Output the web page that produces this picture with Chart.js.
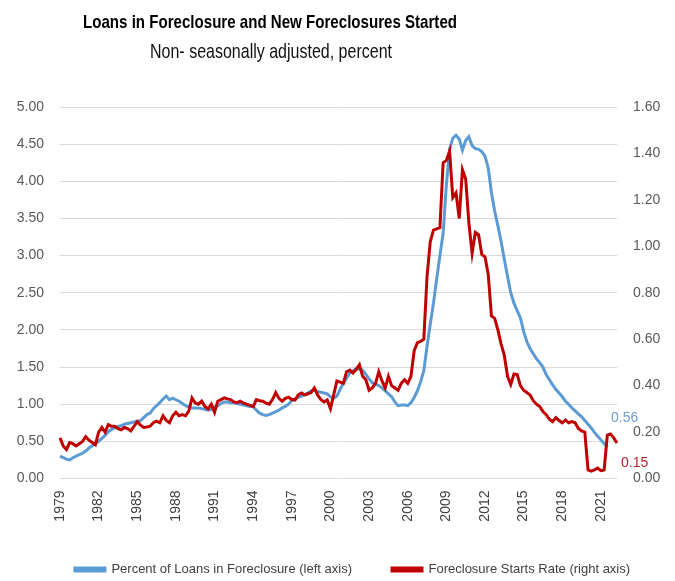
<!DOCTYPE html>
<html><head><meta charset="utf-8">
<script src="https://cdn.jsdelivr.net/npm/chart.js@4.4.0/dist/chart.umd.min.js"></script>
<style>
html,body{margin:0;padding:0;background:#fff;}
#wrap{position:relative;width:675px;height:581px;overflow:hidden;background:#fff;}
canvas{position:absolute;left:0;top:0;}
.t{position:absolute;white-space:nowrap;transform-origin:0 0;color:#000;font-family:"Liberation Sans Narrow","Liberation Sans",Arial,sans-serif;}
#title{font-weight:bold;font-size:19px;line-height:19px;left:83px;top:12px;}
#sub{font-size:21px;line-height:21px;left:150px;top:40px;color:#111;}
</style></head><body>
<div id="wrap"><canvas id="c" width="675" height="581"></canvas>
<div id="title" class="t">Loans in Foreclosure and New Foreclosures Started</div>
<div id="sub" class="t">Non- seasonally adjusted, percent</div></div>
<script>
// ---- data (quarterly, starting 1979 Q1) ----
const startYear = 1979;
const quarterCount = 174;
const tickYears = ['1979','1982','1985','1988','1991','1994','1997','2000','2003','2006','2009','2012','2015','2018','2021'];
const leftTicks = [0,0.5,1,1.5,2,2.5,3,3.5,4,4.5,5];
const rightTicks = [0,0.2,0.4,0.6,0.8,1.0,1.2,1.4,1.6];

const seriesNames = ['Percent of Loans in Foreclosure (left axis)','Foreclosure Starts Rate (right axis)'];

const loansInForeclosure = [
0.30,0.28,0.26,0.25,0.28,0.30,0.32,0.34,0.37,0.41,
0.44,0.47,0.50,0.54,0.58,0.63,0.66,0.68,0.70,0.71,
0.73,0.74,0.75,0.76,0.77,0.78,0.82,0.86,0.88,0.94,
0.98,1.02,1.07,1.11,1.06,1.08,1.06,1.04,1.01,0.98,
0.96,0.95,0.95,0.95,0.94,0.93,0.92,0.93,0.96,0.98,
1.01,1.03,1.03,1.02,1.02,1.01,1.00,0.99,0.98,0.97,
0.97,0.92,0.88,0.86,0.85,0.86,0.88,0.90,0.92,0.95,
0.97,1.00,1.05,1.07,1.09,1.11,1.13,1.15,1.18,1.19,
1.17,1.16,1.15,1.14,1.10,1.08,1.11,1.20,1.28,1.35,
1.42,1.45,1.48,1.47,1.46,1.40,1.34,1.29,1.27,1.25,
1.22,1.18,1.14,1.10,1.03,0.98,0.99,0.99,0.98,1.02,
1.09,1.18,1.30,1.45,1.78,2.08,2.36,2.69,3.00,3.30,
3.95,4.43,4.58,4.62,4.57,4.42,4.55,4.60,4.48,4.44,
4.43,4.40,4.34,4.18,3.85,3.60,3.40,3.19,2.95,2.72,
2.50,2.36,2.26,2.16,1.98,1.84,1.75,1.68,1.61,1.56,
1.50,1.40,1.33,1.26,1.20,1.15,1.10,1.04,1.00,0.95,
0.91,0.87,0.83,0.78,0.73,0.68,0.62,0.57,0.52,0.47,
0.42
];

const foreclosureStarts = [
0.175,0.14,0.125,0.155,0.15,0.14,0.15,0.16,0.18,0.165,
0.155,0.145,0.20,0.22,0.20,0.232,0.225,0.225,0.215,0.21,
0.22,0.215,0.205,0.225,0.245,0.23,0.22,0.222,0.225,0.24,
0.247,0.24,0.27,0.25,0.24,0.27,0.285,0.27,0.275,0.27,
0.29,0.347,0.325,0.32,0.333,0.31,0.30,0.32,0.285,0.333,
0.34,0.347,0.343,0.34,0.33,0.327,0.333,0.325,0.32,0.315,
0.31,0.34,0.335,0.333,0.325,0.32,0.34,0.37,0.345,0.333,
0.345,0.35,0.34,0.338,0.36,0.368,0.36,0.365,0.37,0.39,
0.36,0.34,0.33,0.338,0.30,0.36,0.42,0.415,0.41,0.46,
0.467,0.454,0.47,0.49,0.44,0.425,0.38,0.39,0.41,0.46,
0.42,0.39,0.44,0.40,0.39,0.38,0.41,0.425,0.41,0.44,
0.55,0.585,0.59,0.60,0.87,1.02,1.07,1.075,1.08,1.36,
1.37,1.41,1.21,1.23,1.12,1.33,1.29,1.10,0.97,1.06,
1.05,0.965,0.955,0.88,0.70,0.69,0.64,0.58,0.53,0.44,
0.405,0.45,0.448,0.40,0.38,0.37,0.36,0.335,0.32,0.31,
0.288,0.275,0.255,0.245,0.262,0.25,0.24,0.252,0.24,0.245,
0.24,0.215,0.205,0.20,0.037,0.032,0.037,0.045,0.034,0.037,
0.187,0.192,0.175,0.153
];

const endLabelValues = {left: 0.56, right: 0.15};

// ---- categories ----
const quarterLabels = [];
for (let i = 0; i < quarterCount; i++) {
  quarterLabels.push(String(startYear + Math.floor(i / 4)) + ' Q' + (i % 4 + 1));
}

const BLUE = '#5B9BD5';
const RED = '#C00000';
const FONT = "'Liberation Sans', Arial, sans-serif";

Chart.defaults.font.family = FONT;
Chart.defaults.color = '#595959';

const endLabels = {
  id: 'endLabels',
  afterDatasetsDraw(chart) {
    const ctx = chart.ctx, a = chart.chartArea;
    const yl = chart.scales.yLeft, yr = chart.scales.yRight;
    ctx.save();
    ctx.font = '14px ' + FONT;
    ctx.textBaseline = 'middle';
    ctx.textAlign = 'left';
    ctx.fillStyle = '#6E9CC8';
    ctx.fillText(endLabelValues.left.toFixed(2), a.right - 6, yl.getPixelForValue(endLabelValues.left) - 19);
    ctx.fillStyle = '#B4232A';
    ctx.fillText(endLabelValues.right.toFixed(2), a.right + 4, yr.getPixelForValue(endLabelValues.right) + 19);
    ctx.restore();
  }
};

new Chart(document.getElementById('c'), {
  type: 'line',
  data: {
    labels: quarterLabels,
    datasets: [
      {label: seriesNames[0], data: loansInForeclosure, yAxisID: 'yLeft', borderColor: BLUE, backgroundColor: BLUE, borderWidth: 3, pointRadius: 0, tension: 0, order: 1},
      {label: seriesNames[1], data: foreclosureStarts, yAxisID: 'yRight', borderColor: RED, backgroundColor: RED, borderWidth: 3, pointRadius: 0, tension: 0, order: 0}
    ]
  },
  options: {
    responsive: false,
    animation: false,
    devicePixelRatio: 1,
    layout: {padding: {top: 107, left: 0, right: -30, bottom: -5}},
    plugins: {
      title: {display: false},
      tooltip: {enabled: false},
      legend: {
        position: 'bottom',
        labels: {
          boxWidth: 30, boxHeight: 3, padding: 40, color: '#404040',
          font: {size: 13, family: FONT},
          sort: (a, b) => a.datasetIndex - b.datasetIndex
        }
      }
    },
    scales: {
      x: {
        type: 'category',
        offset: false,
        grid: {display: false},
        border: {display: false},
        ticks: {
          autoSkip: false, maxRotation: 90, minRotation: 90, padding: 4,
          font: {size: 14}, color: '#404040',
          callback: function(v, i) {
            const y = quarterLabels[i].slice(0, 4);
            return (i % 4 === 0 && tickYears.includes(y)) ? y : '';
          }
        },
        afterFit: s => { s.height = 44.5; }
      },
      yLeft: {
        position: 'left', min: 0, max: 5,
        afterBuildTicks: s => { s.ticks = leftTicks.map(v => ({value: v})); },
        grid: {color: '#D9D9D9', lineWidth: 1, drawTicks: false},
        border: {display: false},
        ticks: {padding: 16, font: {size: 14}, callback: v => Number(v).toFixed(2)},
        afterFit: s => { s.width = 60; }
      },
      yRight: {
        position: 'right', min: 0, max: 1.6,
        afterBuildTicks: s => { s.ticks = rightTicks.map(v => ({value: v})); },
        grid: {display: false, drawTicks: false},
        border: {display: false},
        ticks: {padding: 16, font: {size: 14}, callback: v => Number(v).toFixed(2)},
        afterFit: s => { s.width = 88; }
      }
    }
  },
  plugins: [endLabels]
});

function fitText(id, target) {
  const el = document.getElementById(id);
  el.style.transform = 'none';
  const w = el.getBoundingClientRect().width;
  if (w > 0) el.style.transform = 'scaleX(' + (target / w) + ')';
}
fitText('title', 374);
fitText('sub', 242);
if (document.fonts && document.fonts.ready) document.fonts.ready.then(() => { fitText('title', 374); fitText('sub', 242); });
</script>
</body></html>
